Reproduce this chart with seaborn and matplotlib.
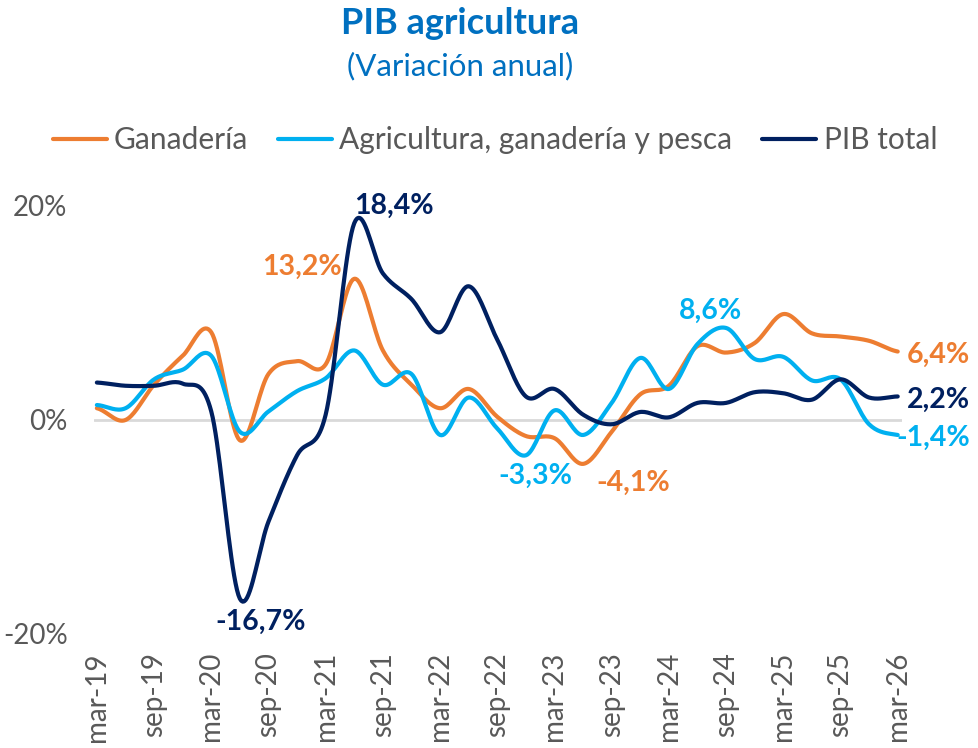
import numpy as np
import pandas as pd
import seaborn as sns
import matplotlib.pyplot as plt

# datos trimestrales, variacion anual (%)
trimestres = ['mar-19', 'jun-19', 'sep-19', 'dic-19', 'mar-20', 'jun-20', 'sep-20', 'dic-20',
              'mar-21', 'jun-21', 'sep-21', 'dic-21', 'mar-22', 'jun-22', 'sep-22', 'dic-22',
              'mar-23', 'jun-23', 'sep-23', 'dic-23', 'mar-24', 'jun-24', 'sep-24', 'dic-24',
              'mar-25', 'jun-25', 'sep-25', 'dic-25', 'mar-26']
ganaderia = [1.1, 0.0, 3.3, 6.0, 8.2, -1.9, 4.3, 5.5, 5.2, 13.2, 6.5, 3.3, 1.1, 2.9, 0.3,
             -1.5, -1.7, -4.1, -1.1, 2.4, 3.2, 6.9, 6.3, 7.2, 9.9, 8.1, 7.8, 7.4, 6.4]
agro_pesca = [1.4, 1.1, 3.8, 4.7, 6.0, -1.1, 0.8, 2.7, 3.9, 6.5, 3.3, 4.3, -1.4, 2.1, -0.8,
              -3.3, 0.9, -1.4, 1.6, 5.8, 2.9, 7.1, 8.6, 5.7, 5.9, 3.7, 3.8, -0.4, -1.4]
pib_total = [3.5, 3.2, 3.2, 3.4, 0.8, -16.7, -9.5, -3.3, 0.5, 18.4, 13.7, 11.3, 8.2, 12.5, 7.5,
             2.2, 2.9, 0.5, -0.4, 0.75, 0.25, 1.6, 1.6, 2.6, 2.5, 1.9, 3.8, 2.1, 2.2]
series = ['Ganadería', 'Agricultura, ganadería y pesca', 'PIB total']
colores = ['#ED7D31', '#00B0F0', '#002060']
etiquetas_x = trimestres[::2]


def suavizar(y, n=20):
    # curva tipo Catmull-Rom como la linea suavizada de Excel
    y = np.asarray(y, dtype=float)
    p = np.concatenate([[y[0]], y, [y[-1]]])
    xs, ys = [], []
    for i in range(len(y) - 1):
        p0, p1, p2, p3 = p[i], p[i + 1], p[i + 2], p[i + 3]
        t = np.linspace(0, 1, n, endpoint=False)
        v = 0.5 * (2 * p1 + (-p0 + p2) * t + (2 * p0 - 5 * p1 + 4 * p2 - p3) * t ** 2
                   + (-p0 + 3 * p1 - 3 * p2 + p3) * t ** 3)
        xs.append(i + t)
        ys.append(v)
    xs.append([len(y) - 1])
    ys.append([y[-1]])
    return np.concatenate(xs), np.concatenate(ys)


filas = []
for nombre, valores in zip(series, [ganaderia, agro_pesca, pib_total]):
    xx, yy = suavizar(valores)
    filas.append(pd.DataFrame({'x': xx, 'valor': yy, 'serie': nombre}))
df = pd.concat(filas, ignore_index=True)

sns.set_style('white')
plt.rcParams['font.family'] = ['Lato', 'DejaVu Sans']

fig = plt.figure(figsize=(9.79, 7.48), dpi=100)
ax = fig.add_axes([94 / 979, 1 - 634 / 748, 808 / 979, 428 / 748])

ax.axhline(0, color='#D9D9D9', lw=2, zorder=1)
sns.lineplot(data=df, x='x', y='valor', hue='serie', hue_order=series,
             palette=colores, lw=3, ax=ax, zorder=3)

ax.set_xlim(-0.1, 28.15)
ax.set_ylim(-20, 20)
ax.set_yticks([-20, 0, 20])
ax.set_yticklabels(['-20%', '0%', '20%'])
ax.set_xticks(range(0, len(trimestres), 2))
ax.set_xticklabels(etiquetas_x, rotation=90, va='top')
ax.tick_params(axis='y', length=0, pad=19, labelsize=20, labelcolor='#595959')
ax.tick_params(axis='x', length=0, pad=13, labelsize=20, labelcolor='#595959')
ax.set_xlabel('')
ax.set_ylabel('')
sns.despine(ax=ax, left=True, bottom=True)

ax.legend(loc='center', bbox_to_anchor=(495 / 979, 1 - 140 / 748), bbox_transform=fig.transFigure,
          ncol=3, frameon=False, fontsize=21.5, handlelength=1.8, handletextpad=0.25,
          columnspacing=1.0, labelcolor='#595959')

# etiquetas de datos
def etiqueta(serie, i, dx, dy, ha, color):
    v = serie[i]
    txt = f'{v:.1f}%'.replace('.', ',')
    ax.annotate(txt, xy=(i, v), xytext=(dx * 0.72, dy * 0.72), textcoords='offset points',
                ha=ha, va='center', fontsize=20.5, fontweight='bold', color=color, zorder=5)


etiqueta(pib_total, 9, 0, 17, 'left', colores[2])
etiqueta(ganaderia, 9, -12, 12, 'right', colores[0])
etiqueta(pib_total, 5, 21, -23, 'center', colores[2])
etiqueta(agro_pesca, 22, -16, 17, 'center', colores[1])
etiqueta(ganaderia, 28, 9, -3, 'left', colores[0])
etiqueta(pib_total, 28, 9, -3, 'left', colores[2])
etiqueta(agro_pesca, 28, -1, -3, 'left', colores[1])
etiqueta(agro_pesca, 15, 9, -21, 'center', colores[1])
etiqueta(ganaderia, 17, 50, -19, 'center', colores[0])

fig.text(460 / 979, 1 - 24 / 748, 'PIB agricultura', ha='center', va='center',
         fontsize=26, fontweight='bold', color='#0070C0')
fig.text(460 / 979, 1 - 66 / 748, '(Variación anual)', ha='center', va='center',
         fontsize=22.5, color='#0070C0')

fig.savefig('out.png', dpi=100)
